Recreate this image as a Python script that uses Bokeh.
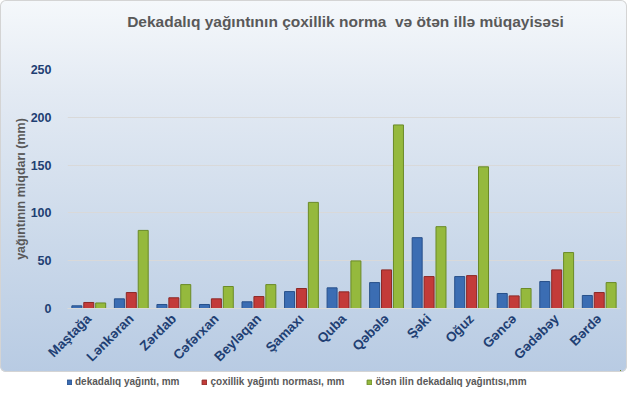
from bokeh.plotting import figure
from bokeh.models import ColumnDataSource, Legend, LegendItem, FactorRange, Div, Range1d
from bokeh.layouts import column
from bokeh.transform import dodge
from bokeh.embed import file_html
from bokeh.resources import INLINE
import math

categories = ["Maştağa", "Lənkəran", "Zərdab", "Cəfərxan", "Beyləqan", "Şamaxı", "Quba",
              "Qəbələ", "Şəki", "Oğuz", "Gəncə", "Gədəbəy", "Bərdə"]
decade = [2.8, 10.1, 4.2, 4.2, 7.0, 17.7, 21.6, 27.1, 74.1, 33.4, 15.7, 28.2, 13.6]
norm = [6.3, 16.7, 11.2, 10.1, 12.5, 20.9, 17.4, 40.4, 33.4, 34.4, 13.2, 40.4, 16.7]
last_year = [5.8, 81.7, 25.0, 23.0, 25.0, 111.0, 49.8, 192.0, 85.6, 148.2, 20.9, 58.5, 27.1]
y_ticks = [0, 50, 100, 150, 200, 250]

series_names = ["dekadalıq yağıntı, mm", "çoxillik yağıntı norması, mm", "ötən ilin dekadalıq yağıntısı,mm"]
title_text = "Dekadalıq yağıntının çoxillik norma  və ötən illə müqayisəsi"
y_label = "yağıntının miqdarı (mm)"

src = ColumnDataSource(dict(cat=categories, decade=decade, norm=norm, last=last_year))

FONT = "Liberation Sans"
TITLE_H = 40
title_div = Div(text=title_text, width=627, height=TITLE_H,
                styles={"font-family": FONT, "font-size": "15.5px", "font-weight": "bold",
                        "color": "#595959", "text-align": "center", "white-space": "pre",
                        "padding-left": "64px", "padding-top": "11px", "box-sizing": "border-box",
                        "margin": "0"})

p = figure(x_range=FactorRange(*categories), y_range=(0, 250),
           frame_width=553, frame_height=239,
           output_backend="svg", toolbar_location=None,
           min_border_left=67, min_border_right=7, min_border_top=69 - TITLE_H, min_border_bottom=60)
p.background_fill_alpha = 0
p.border_fill_alpha = 0
p.outline_line_color = None

w = 0.235
specs = [("decade", -0.28, "#3b6db3", "#28508a"),
         ("norm", 0.0, "#c33b39", "#8c2826"),
         ("last", 0.28, "#95b93d", "#6a8a27")]
for col, off, fc, lc in specs:
    p.vbar(x=dodge("cat", off, range=p.x_range), top=col, width=w, source=src,
           fill_color=fc, line_color=lc, line_width=1)

p.xgrid.grid_line_color = None
p.ygrid.grid_line_color = "#d9d9d9"
p.ygrid.grid_line_width = 1.2
p.yaxis.ticker = y_ticks
p.yaxis.axis_line_color = None
p.yaxis.major_tick_line_color = None
p.yaxis.minor_tick_line_color = None
p.yaxis.major_label_text_font = FONT
p.yaxis.major_label_text_font_size = "12.5px"
p.yaxis.major_label_text_font_style = "bold"
p.yaxis.major_label_text_color = "#1f3f73"
p.yaxis.major_label_standoff = 10
p.yaxis.axis_label = y_label
p.yaxis.axis_label_text_font = FONT
p.yaxis.axis_label_text_font_size = "12.5px"
p.yaxis.axis_label_text_font_style = "bold"
p.yaxis.axis_label_text_color = "#595959"
p.yaxis.axis_label_standoff = 0

p.xaxis.axis_label = None
p.xaxis.axis_line_color = "#d9d9d9"
p.xaxis.axis_line_width = 1.2
p.xaxis.major_tick_line_color = None
p.xaxis.minor_tick_line_color = None
p.xaxis.major_tick_out = 0
p.xaxis.major_label_orientation = math.pi / 4
p.xaxis.major_label_text_font = FONT
p.xaxis.major_label_text_font_size = "13.5px"
p.xaxis.major_label_text_font_style = "bold"
p.xaxis.major_label_text_color = "#1f3f73"
p.xaxis.major_label_standoff = 8

# legend strip: a small figure whose swatch renderers use the same series (kept out of view)
lg = figure(width=627, height=22, x_range=Range1d(-2, -1), y_range=Range1d(-2, -1),
            x_axis_type=None, y_axis_type=None, output_backend="svg", toolbar_location=None,
            min_border=0, styles={"position": "absolute", "top": "370px", "left": "0px"})
lg.background_fill_alpha = 0
lg.border_fill_alpha = 0
lg.outline_line_color = None
items = []
for name, (col, off, fc, lc) in zip(series_names, specs):
    r = lg.vbar(x=col, top=col, width=0.1, source=src, fill_color=fc, line_color=lc)
    items.append(LegendItem(label=name, renderers=[r]))
legend = Legend(items=items, orientation="horizontal", location=(-1, 5),
                label_text_font=FONT, label_text_font_size="10px", label_text_font_style="bold",
                label_text_color="#595959", glyph_width=6, glyph_height=6, spacing=22,
                label_standoff=3, padding=0, margin=0, label_height=11,
                background_fill_alpha=0, border_line_color=None)
lg.add_layout(legend)

layout = column(title_div, p, lg, spacing=0,
                styles={"background": "linear-gradient(to bottom, #f5f8fb 0%, #e3eaf3 25%, #cbd9ea 65%, #b8cbe3 100%)",
                        "box-shadow": "inset 0 0 0 1px #d4d4d4", "border-radius": "6px",
                        "position": "relative"})

open("out.html", "w").write(file_html(layout, INLINE))
